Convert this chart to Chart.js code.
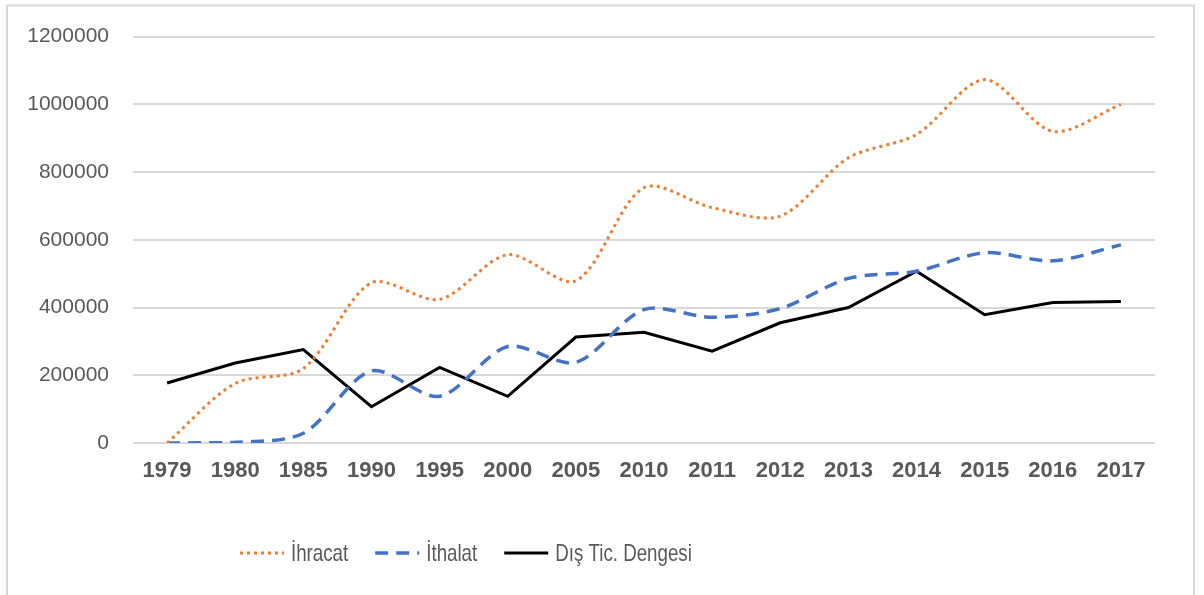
<!DOCTYPE html>
<html>
<head>
<meta charset="utf-8">
<script src="https://cdn.jsdelivr.net/npm/chart.js@4"></script>
<style>
  html, body { margin: 0; padding: 0; background: #ffffff; }
  #wrap { width: 1204px; height: 595px; }
</style>
</head>
<body>
<div id="wrap"><canvas id="myChart" width="1204" height="595"></canvas></div>
<script>
// Categories (years)
const years = ['1979', '1980', '1985', '1990', '1995', '2000', '2005', '2010', '2011', '2012', '2013', '2014', '2015', '2016', '2017'];

// Series values
const ihracat = [0, 176000, 220000, 473000, 424000, 556000, 479000, 754000, 695000, 670000, 842000, 911000, 1073000, 920000, 1000000];
const ithalat = [0, 2000, 29000, 213000, 138000, 285000, 238000, 394000, 371000, 397000, 486000, 507000, 562000, 538000, 585000];
const disTicDengesi = [177000, 236000, 276000, 107000, 223000, 138000, 313000, 327000, 271000, 355000, 400000, 507000, 379000, 415000, 418000];

// Y axis tick labels
const yTicks = [0, 200000, 400000, 600000, 800000, 1000000, 1200000];

// Outer light border of the chart box
const frame = {
  id: 'frame',
  beforeDraw(chart) {
    const c = chart.ctx;
    c.save();
    c.fillStyle = '#ffffff';
    c.fillRect(0, 0, chart.width, chart.height);
    c.strokeStyle = '#d9d9d9';
    c.lineWidth = 2;
    c.strokeRect(7, 5.5, 1187, 620);
    c.restore();
  }
};

// Legend drawn under the plot, using each dataset's own line style
// (text squeezed a bit to match the narrow font of the original)
const lineLegend = {
  id: 'lineLegend',
  afterDraw(chart) {
    const c = chart.ctx;
    const squeeze = 0.78;
    let x = 240;
    const y = 553;
    c.save();
    c.font = '24px "Liberation Sans", sans-serif';
    c.textBaseline = 'middle';
    chart.data.datasets.forEach(function (ds) {
      c.beginPath();
      c.strokeStyle = ds.borderColor;
      c.lineWidth = ds.borderWidth;
      c.setLineDash(ds.borderDash || []);
      c.moveTo(x, y);
      c.lineTo(x + 44, y);
      c.stroke();
      c.setLineDash([]);
      c.save();
      c.translate(x + 51, y + 1);
      c.scale(squeeze, 1);
      c.fillStyle = '#595959';
      c.fillText(ds.label, 0, 0);
      c.restore();
      x += 51 + c.measureText(ds.label).width * squeeze + 27;
    });
    c.restore();
  }
};

const ctx = document.getElementById('myChart').getContext('2d');

const myChart = new Chart(ctx, {
  type: 'line',
  data: {
    labels: years,
    datasets: [
      {
        label: 'İhracat',
        data: ihracat,
        borderColor: '#ED7D31',
        borderWidth: 3,
        borderDash: [3, 4],
        tension: 0.3,
        pointRadius: 0,
        fill: false,
      },
      {
        label: 'İthalat',
        data: ithalat,
        borderColor: '#4472C4',
        borderWidth: 3.5,
        borderDash: [13, 8],
        tension: 0.3,
        pointRadius: 0,
        fill: false,
      },
      {
        label: 'Dış Tic. Dengesi',
        data: disTicDengesi,
        borderColor: '#000000',
        borderWidth: 3,
        tension: 0,
        pointRadius: 0,
        fill: false,
      },
    ],
  },
  options: {
    responsive: false,
    animation: false,
    layout: { padding: { top: 35, right: 49, bottom: 0, left: 0 } },
    plugins: {
      legend: { display: false },
      tooltip: { enabled: false },
    },
    scales: {
      x: {
        offset: true,
        grid: { display: false, drawTicks: false },
        border: { display: false },
        ticks: {
          color: '#595959',
          padding: 15,
          maxRotation: 0,
          autoSkip: false,
          font: { family: '"Liberation Sans", sans-serif', size: 22, weight: 'bold' },
        },
        afterFit: function (s) { s.height = 152; },
      },
      y: {
        min: 0,
        max: 1200000,
        afterBuildTicks: function (s) { s.ticks = yTicks.map(function (v) { return { value: v }; }); },
        grid: { color: '#d9d9d9', lineWidth: 2, drawTicks: false },
        border: { display: false },
        ticks: {
          color: '#595959',
          padding: 24,
          font: { family: '"Liberation Sans", sans-serif', size: 21 },
          callback: function (v) { return String(v); },
        },
        afterFit: function (s) { s.width = 133; },
      },
    },
  },
  plugins: [frame, lineLegend],
});
</script>
</body>
</html>
